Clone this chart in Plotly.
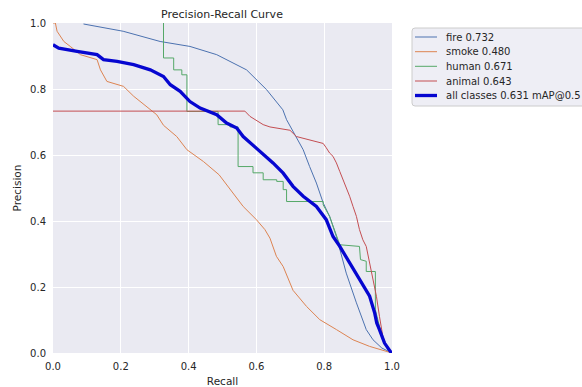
import plotly.graph_objects as go

# ---- data ----
fire_r = [0.09, 0.207, 0.316, 0.404, 0.483, 0.571, 0.63, 0.678, 0.689, 0.713, 0.738, 0.757, 0.777, 0.797, 0.816, 0.836, 0.865, 0.895, 0.924, 0.944, 0.97, 1.0]
fire_p = [0.997, 0.975, 0.944, 0.929, 0.904, 0.858, 0.798, 0.737, 0.707, 0.662, 0.616, 0.565, 0.515, 0.455, 0.414, 0.353, 0.242, 0.152, 0.071, 0.04, 0.015, 0.0]

smoke_r = [0.0, 0.007, 0.012, 0.032, 0.051, 0.081, 0.13, 0.14, 0.159, 0.208, 0.238, 0.277, 0.306, 0.326, 0.365, 0.395, 0.444, 0.49, 0.522, 0.561, 0.6, 0.625, 0.64, 0.659, 0.679, 0.708, 0.748, 0.787, 0.836, 0.885, 0.934, 0.97, 1.0]
smoke_p = [1.0, 1.0, 0.975, 0.944, 0.929, 0.904, 0.889, 0.858, 0.823, 0.808, 0.778, 0.747, 0.722, 0.69, 0.656, 0.616, 0.58, 0.54, 0.495, 0.444, 0.404, 0.374, 0.348, 0.293, 0.262, 0.19, 0.141, 0.101, 0.071, 0.04, 0.02, 0.008, 0.0]

human_r = [0.326, 0.326, 0.356, 0.356, 0.38, 0.38, 0.395, 0.395, 0.487, 0.487, 0.522, 0.522, 0.546, 0.546, 0.59, 0.59, 0.62, 0.62, 0.66, 0.66, 0.679, 0.679, 0.689, 0.689, 0.797, 0.797, 0.816, 0.841, 0.846, 0.904, 0.907, 0.924, 0.924, 0.951, 0.951, 0.963, 0.978, 0.993, 1.0]
human_p = [1.0, 0.894, 0.894, 0.858, 0.858, 0.843, 0.843, 0.732, 0.732, 0.692, 0.692, 0.685, 0.685, 0.565, 0.565, 0.546, 0.546, 0.525, 0.525, 0.52, 0.52, 0.495, 0.495, 0.459, 0.459, 0.449, 0.414, 0.343, 0.328, 0.323, 0.283, 0.278, 0.247, 0.247, 0.131, 0.081, 0.03, 0.005, 0.0]

animal_r = [0.0, 0.566, 0.581, 0.62, 0.64, 0.699, 0.718, 0.757, 0.797, 0.806, 0.816, 0.826, 0.836, 0.846, 0.86, 0.875, 0.885, 0.895, 0.904, 0.914, 0.924, 0.934, 0.944, 0.954, 0.963, 0.973, 0.988, 1.0]
animal_p = [0.733, 0.733, 0.717, 0.692, 0.685, 0.675, 0.656, 0.646, 0.635, 0.622, 0.606, 0.596, 0.576, 0.55, 0.515, 0.475, 0.444, 0.414, 0.374, 0.343, 0.323, 0.273, 0.222, 0.172, 0.111, 0.05, 0.01, 0.0]

all_r = [0.0, 0.017, 0.071, 0.13, 0.149, 0.189, 0.238, 0.287, 0.326, 0.346, 0.375, 0.404, 0.434, 0.483, 0.512, 0.542, 0.561, 0.61, 0.649, 0.679, 0.708, 0.738, 0.777, 0.806, 0.826, 0.846, 0.875, 0.904, 0.934, 0.949, 0.955, 0.963, 0.978, 0.995, 1.0]
all_p = [0.934, 0.924, 0.914, 0.904, 0.889, 0.884, 0.874, 0.858, 0.838, 0.813, 0.793, 0.762, 0.742, 0.722, 0.697, 0.682, 0.656, 0.611, 0.576, 0.545, 0.505, 0.475, 0.444, 0.404, 0.353, 0.323, 0.273, 0.222, 0.172, 0.121, 0.091, 0.071, 0.03, 0.005, 0.0]

names = ["fire 0.732", "smoke 0.480", "human 0.671", "animal 0.643", "all classes 0.631 mAP@0.5"]
colors = ["#4C72B0", "#DD8452", "#55A868", "#C44E52", "#0606D0"]
series = [(fire_r, fire_p), (smoke_r, smoke_p), (human_r, human_p), (animal_r, animal_p), (all_r, all_p)]
widths = [1, 1, 1, 1, 3.3]

tick_vals = [0.0, 0.2, 0.4, 0.6, 0.8, 1.0]
tick_text = ["0.0", "0.2", "0.4", "0.6", "0.8", "1.0"]

W, H = 582, 387
ML, MR, MT, MB = 53, 190, 23, 34
PW, PH = W - ML - MR, H - MT - MB


def px(x):
    return (x - ML) / PW


def py(y):
    return (H - MB - y) / PH


fig = go.Figure()
for (r, p), n, c, w in zip(series, names, colors, widths):
    fig.add_trace(go.Scatter(x=r, y=p, mode="lines", name=n,
                             line=dict(color=c, width=w), showlegend=False))

# legend box (matplotlib style, clipped at right edge like the reference)
x0, x1, y0, y1, rad = 412, 600, 28, 106, 3
path = (f"M {px(x0 + rad)} {py(y0)} L {px(x1)} {py(y0)} L {px(x1)} {py(y1)} "
        f"L {px(x0 + rad)} {py(y1)} Q {px(x0)} {py(y1)} {px(x0)} {py(y1 - rad)} "
        f"L {px(x0)} {py(y0 + rad)} Q {px(x0)} {py(y0)} {px(x0 + rad)} {py(y0)} Z")
shapes = [dict(type="path", xref="paper", yref="paper", path=path,
               fillcolor="rgba(234,234,242,0.8)", line=dict(color="#CCCCCC", width=1))]
annotations = []
row_y = [37, 51.7, 66.3, 81, 95.5]
for n, c, w, yy in zip(names, colors, widths, row_y):
    shapes.append(dict(type="line", xref="paper", yref="paper",
                       x0=px(415), x1=px(437), y0=py(yy), y1=py(yy),
                       line=dict(color=c, width=w)))
    annotations.append(dict(xref="paper", yref="paper", x=px(443.5), y=py(yy),
                            xanchor="left", yanchor="middle", text=n, showarrow=False,
                            font=dict(family="DejaVu Sans", size=10, color="#262626")))

font = dict(family="DejaVu Sans", size=10, color="#262626")
fig.update_layout(
    width=W, height=H,
    margin=dict(l=ML, r=MR, t=MT, b=MB, pad=0, autoexpand=False),
    paper_bgcolor="white", plot_bgcolor="#EAEAF2",
    font=font,
    title=dict(text="Precision-Recall Curve", x=222 / W, xanchor="center",
               y=1 - 14 / H, yanchor="middle", font=dict(size=11, color="#262626")),
    showlegend=False,
    shapes=shapes,
    annotations=annotations,
)
fig.update_xaxes(range=[0, 1], tickvals=tick_vals, ticktext=tick_text,
                 showgrid=True, gridcolor="white", gridwidth=1.2, zeroline=False,
                 showline=False, ticks="", ticklabelstandoff=6,
                 title=dict(text="Recall", standoff=6, font=dict(size=10.5)))
fig.update_yaxes(range=[0, 1], tickvals=tick_vals, ticktext=tick_text,
                 showgrid=True, gridcolor="white", gridwidth=1.2, zeroline=False,
                 showline=False, ticks="", ticklabelstandoff=6,
                 title=dict(text="Precision", standoff=6, font=dict(size=10.5)))
fig.write_html("out.html")
